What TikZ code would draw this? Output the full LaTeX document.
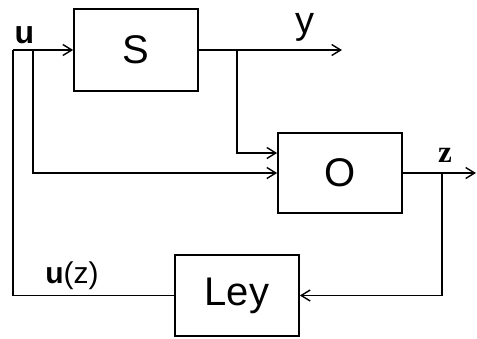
\documentclass[tikz,border=0pt]{standalone}
\usepackage{fontspec}
\setmainfont{Liberation Sans}[BoldFont={Liberation Sans Bold}]
\newfontfamily\zserif{Liberation Serif}
\usetikzlibrary{arrows.meta}
\begin{document}
\begin{tikzpicture}[x=1pt,y=-1pt,
  block/.style={draw,line width=1.7pt,minimum width=124pt,inner sep=0pt,font=\fontsize{40}{42}\selectfont},
  wire/.style={line width=1.7pt},
  sig/.style={wire,-{Straight Barb[length=9pt,width=11pt,line width=1.4pt]}},
  lab/.style={inner sep=0pt,anchor=base}]
\useasboundingbox (0,0) rectangle (477,338);
% blocks
\node[block,minimum height=82pt] (S) at (136,50) {S};
\node[block,minimum height=80pt] (O) at (340,173) {O};
\node[block,minimum height=81pt] (L) at (237,295.5) {Ley};
% junction and end points
\coordinate (uin) at (13,50);
\coordinate (ub) at (33,50);
\coordinate (yb) at (237,50);
\coordinate (yout) at (342,50);
\coordinate (zb) at (442,173);
\coordinate (zout) at (476,173);
% signal paths
\draw[sig] (uin) -- (S.west);
\draw[wire] (L.west) -| (uin);
\draw[sig] (ub) |- (O.west);
\draw[sig] (S.east) -- (yout);
\draw[sig] (yb) |- (O.west |- 0,153);
\draw[sig] (O.east) -- (zout);
\draw[sig] (zb) |- (L.east);
% labels
\node[lab,font=\fontsize{32}{34}\selectfont\bfseries] (lu) at (24.5,43) {u};
\node[lab,font=\fontsize{38}{40}\selectfont] (ly) at (305,33) {y};
\node[lab,font=\fontsize{31}{32}\selectfont\zserif\bfseries] (lz) at (445,162) {z};
\node[lab,font=\fontsize{30}{32}\selectfont] (luz) at (72,283) {\textbf{u}(z)};
\end{tikzpicture}
\end{document}
